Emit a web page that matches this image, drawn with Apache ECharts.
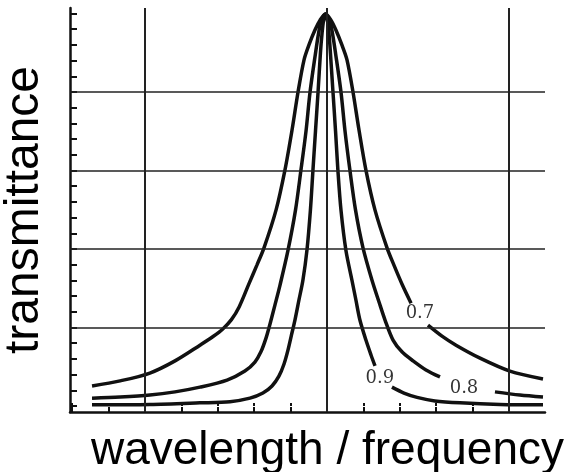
<!DOCTYPE html>
<html>
<head>
<meta charset="utf-8">
<script src="https://cdn.jsdelivr.net/npm/echarts@6/dist/echarts.min.js"></script>
<style>
html, body { margin: 0; padding: 0; background: #fff; }
#chart { width: 581px; height: 472px; }
</style>
</head>
<body>
<div id="chart"></div>
<script>
// curves: [position, transmittance]; the tails carry on past the labels
var curve07 = [[-1.291,0.051],[-1.137,0.064],[-0.973,0.084],[-0.835,0.115],[-0.698,0.155],[-0.626,0.177],[-0.571,0.197],[-0.525,0.220],[-0.482,0.253],[-0.429,0.311],[-0.385,0.359],[-0.346,0.403],[-0.280,0.499],[-0.231,0.601],[-0.192,0.703],[-0.159,0.800],[-0.126,0.882],[-0.099,0.920],[-0.066,0.958],[-0.038,0.983],[-0.008,0.999],[0.022,0.983],[0.049,0.958],[0.082,0.920],[0.110,0.882],[0.143,0.800],[0.176,0.703],[0.214,0.601],[0.264,0.499],[0.330,0.403],[0.368,0.359],[0.412,0.311],[0.462,0.262]];
var curve07Tail = [[0.555,0.206],[0.632,0.178],[0.709,0.155],[0.841,0.122],[1.005,0.089],[1.187,0.069]];
var curve08 = [[-1.291,0.020],[-1.137,0.023],[-0.973,0.028],[-0.835,0.036],[-0.698,0.048],[-0.549,0.066],[-0.451,0.089],[-0.396,0.112],[-0.363,0.138],[-0.335,0.173],[-0.313,0.209],[-0.286,0.257],[-0.258,0.308],[-0.214,0.397],[-0.173,0.499],[-0.143,0.601],[-0.115,0.701],[-0.093,0.800],[-0.063,0.899],[-0.046,0.950],[-0.032,0.981],[-0.008,0.999],[0.015,0.981],[0.030,0.950],[0.047,0.899],[0.077,0.800],[0.099,0.701],[0.126,0.601],[0.157,0.499],[0.198,0.403],[0.247,0.321],[0.286,0.265],[0.319,0.219],[0.363,0.168],[0.412,0.138],[0.473,0.115],[0.544,0.092],[0.621,0.074]];
var curve08Tail = [[0.923,0.036],[1.060,0.028],[1.187,0.023]];
var curve09 = [[-1.291,0.003],[-0.973,0.004],[-0.698,0.008],[-0.533,0.011],[-0.423,0.020],[-0.352,0.033],[-0.302,0.051],[-0.264,0.076],[-0.236,0.107],[-0.214,0.143],[-0.195,0.181],[-0.176,0.219],[-0.154,0.270],[-0.132,0.321],[-0.110,0.397],[-0.091,0.499],[-0.077,0.601],[-0.063,0.701],[-0.049,0.800],[-0.036,0.899],[-0.027,0.950],[-0.019,0.981],[-0.008,0.999],[0.003,0.981],[0.011,0.950],[0.019,0.899],[0.033,0.800],[0.047,0.701],[0.060,0.601],[0.077,0.499],[0.104,0.397],[0.137,0.321],[0.159,0.270],[0.181,0.219],[0.214,0.168],[0.242,0.130],[0.264,0.102]];
var curve09Tail = [[0.357,0.048],[0.423,0.033],[0.495,0.022],[0.593,0.013],[0.731,0.008],[0.951,0.004],[1.187,0.003]];
var curveLabels = [[0.511,0.237,'0.7'],[0.753,0.046,'0.8'],[0.291,0.071,'0.9']];

var xTicks = [-1.4,-1.2,-1.0,-0.8,-0.6,-0.4,-0.2,0,0.2,0.4,0.6,0.8,1.0,1.2];
var yTicks = [0,0.04,0.08,0.12,0.16,0.2,0.24,0.28,0.32,0.36,0.4,0.44,0.48,0.52,0.56,0.6,0.64,0.68,0.72,0.76,0.8,0.84,0.88,0.92,0.96,1.0];
var xGrid = [-1, 0, 1];
var yGrid = [0.2, 0.4, 0.6, 0.8];

var ink = '#111';
var myChart = echarts.init(document.getElementById('chart'));

function curve(data) {
	return {
		type: 'line',
		data: data,
		showSymbol: false,
		smooth: 0.3,
		silent: true,
		lineStyle: { color: ink, width: 3.5 },
		z: 3
	};
}

var gridLines = [];
for (var i = 0; i < xGrid.length; i++) gridLines.push({ xAxis: xGrid[i], lineStyle: { width: 2 } });
for (var j = 0; j < yGrid.length; j++) gridLines.push({ yAxis: yGrid[j] });

var option = {
	animation: false,
	backgroundColor: '#fff',
	grid: { left: 70, right: 36, top: 8, bottom: 60, outerBoundsMode: 'none' },
	xAxis: [{
		type: 'value',
		min: -1.412,
		max: 1.198,
		position: 'bottom',
		axisLine: { show: true, onZero: false, lineStyle: { color: ink, width: 2.5 } },
		axisTick: { show: true, inside: true, length: 5, customValues: xTicks, lineStyle: { color: ink, width: 2 } },
		axisLabel: { show: false },
		splitLine: { show: false },
		name: 'wavelength / frequency',
		nameLocation: 'middle',
		nameGap: 16,
		nameTextStyle: { fontFamily: 'Liberation Sans', fontSize: 46, color: '#000', padding: [0, 0, 0, 40] }
	}, {
		type: 'value',
		min: -1.412,
		max: 1.198,
		position: 'top',
		axisLine: { show: false },
		axisTick: { show: true, inside: false, length: 3, customValues: xTicks, lineStyle: { color: ink, width: 2 } },
		axisLabel: { show: false },
		splitLine: { show: false }
	}],
	yAxis: {
		type: 'value',
		min: -0.0153,
		max: 1.014,
		axisLine: { show: true, onZero: false, lineStyle: { color: ink, width: 2.5 } },
		axisTick: { show: true, inside: true, length: 7, customValues: yTicks, lineStyle: { color: ink, width: 2 } },
		axisLabel: { show: false },
		splitLine: { show: false },
		name: 'transmittance',
		nameLocation: 'middle',
		nameRotate: 90,
		nameGap: 21,
		nameTextStyle: { fontFamily: 'Liberation Sans', fontSize: 48, color: '#000' }
	},
	series: [
		{
			type: 'line',
			data: [],
			silent: true,
			markLine: {
				silent: true,
				symbol: ['none', 'none'],
				label: { show: false },
				lineStyle: { color: '#222', width: 1.5, type: 'solid' },
				data: gridLines
			}
		},
		curve(curve07), curve(curve07Tail),
		curve(curve08), curve(curve08Tail),
		curve(curve09), curve(curve09Tail),
		{
			type: 'scatter',
			data: curveLabels,
			symbolSize: 2,
			itemStyle: { color: 'rgba(0,0,0,0)' },
			silent: true,
			label: {
				show: true,
				position: 'inside',
				formatter: function(p) { return p.value[2]; },
				fontFamily: 'DejaVu Serif',
				fontSize: 18,
				color: '#000'
			},
			z: 4
		}
	]
};

myChart.setOption(option);
</script>
</body>
</html>
